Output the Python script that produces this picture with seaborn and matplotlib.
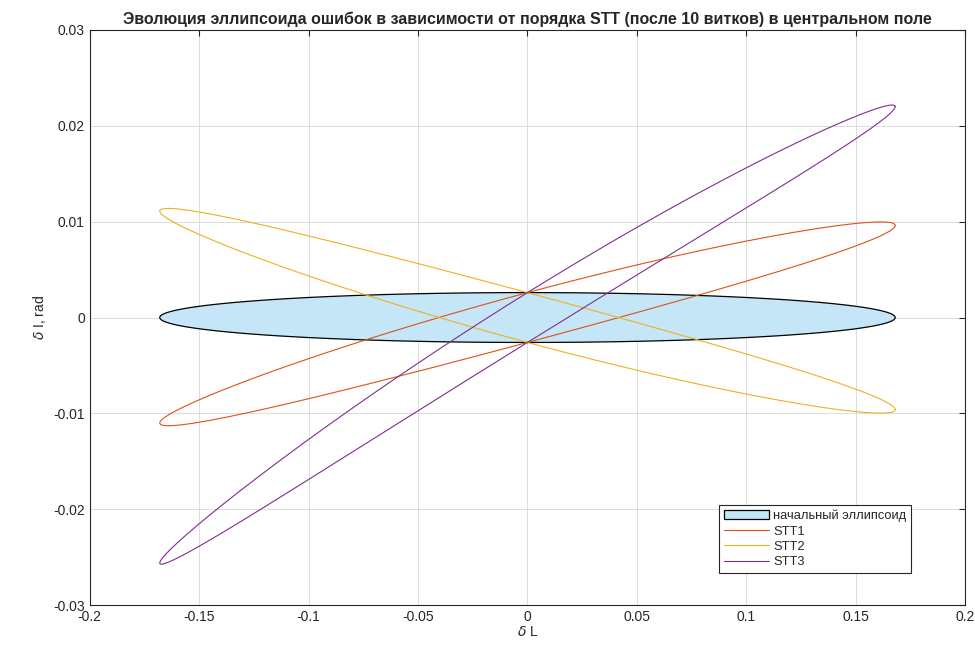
import numpy as np
import pandas as pd
import matplotlib
matplotlib.use("Agg")
import matplotlib.pyplot as plt
import seaborn as sns

# initial ellipsoid semi-axes (dL, dI)
semi_axis_L = 0.168
semi_axis_I = 0.0026

# STT curves: dI value at the right tip (dL=+a) and left tip (dL=-a)
stt_labels = ["STT1", "STT2", "STT3"]
stt_right_tip = [0.0096, -0.0096, 0.0220]
stt_left_tip = [-0.0110, 0.0111, -0.0256]
stt_colors = ["#D95319", "#EDB120", "#7E2F8E"]

x_ticks = [-0.2, -0.15, -0.1, -0.05, 0, 0.05, 0.1, 0.15, 0.2]
y_ticks = [-0.03, -0.02, -0.01, 0, 0.01, 0.02, 0.03]

sns.set_style("white")
plt.rcParams['font.family'] = ['Liberation Sans', 'DejaVu Sans']

t = np.linspace(0, 2 * np.pi, 400)
L0 = semi_axis_L * np.cos(t)
I0 = semi_axis_I * np.sin(t)

rows = []
for name, r, l in zip(stt_labels, stt_right_tip, stt_left_tip):
    s = (r - l) / 2
    c = (r + l) / 2
    u = L0 / semi_axis_L
    I = I0 + s * u + c * u ** 2
    rows.append(pd.DataFrame({"L": L0, "I": I, "curve": name}))
df = pd.concat(rows, ignore_index=True)

fig = plt.figure(figsize=(9.75, 6.5), dpi=100)
ax = fig.add_axes([0.092, 0.069, 0.898, 0.885])

ax.fill(L0, I0, facecolor="#C4E6F7", edgecolor="black", linewidth=0.9, label="начальный эллипсоид")
sns.lineplot(data=df, x="L", y="I", hue="curve", units="curve", estimator=None, sort=False,
             palette=dict(zip(stt_labels, stt_colors)), linewidth=0.8, ax=ax)

ax.set_xlim(-0.2, 0.2)
ax.set_ylim(-0.03, 0.03)
ax.set_xticks(x_ticks)
ax.set_yticks(y_ticks)
ax.set_xticklabels(["-0.2", "-0.15", "-0.1", "-0.05", "0", "0.05", "0.1", "0.15", "0.2"])
ax.set_yticklabels(["-0.03", "-0.02", "-0.01", "0", "0.01", "0.02", "0.03"])
ax.grid(True, color="#DCDCDC", linewidth=0.7)
ax.set_axisbelow(True)
ax.tick_params(direction="in", length=4, labelsize=10, colors="#262626", top=True, right=True)
for sp in ax.spines.values():
    sp.set_color("#262626")
    sp.set_linewidth(0.8)

ax.set_xlabel(r"$\delta$ L", fontsize=10, color="#262626", labelpad=1)
ax.set_ylabel(r"$\delta$ I, rad", fontsize=10, color="#262626", labelpad=4)
ax.set_title("Эволюция эллипсоида ошибок в зависимости от порядка STT (после 10 витков) в центральном поле",
             fontsize=11.5, fontweight="bold", pad=4)

handles, labels = ax.get_legend_handles_labels()
leg = ax.legend(handles, labels, loc="lower right", bbox_to_anchor=(0.945, 0.045), fontsize=9.3,
                frameon=True, fancybox=False, edgecolor="#262626", framealpha=1,
                borderpad=0.35, labelspacing=0.25, handlelength=3.5, handletextpad=0.3)
leg.get_frame().set_linewidth(0.8)

fig.savefig("out.png", dpi=100)
